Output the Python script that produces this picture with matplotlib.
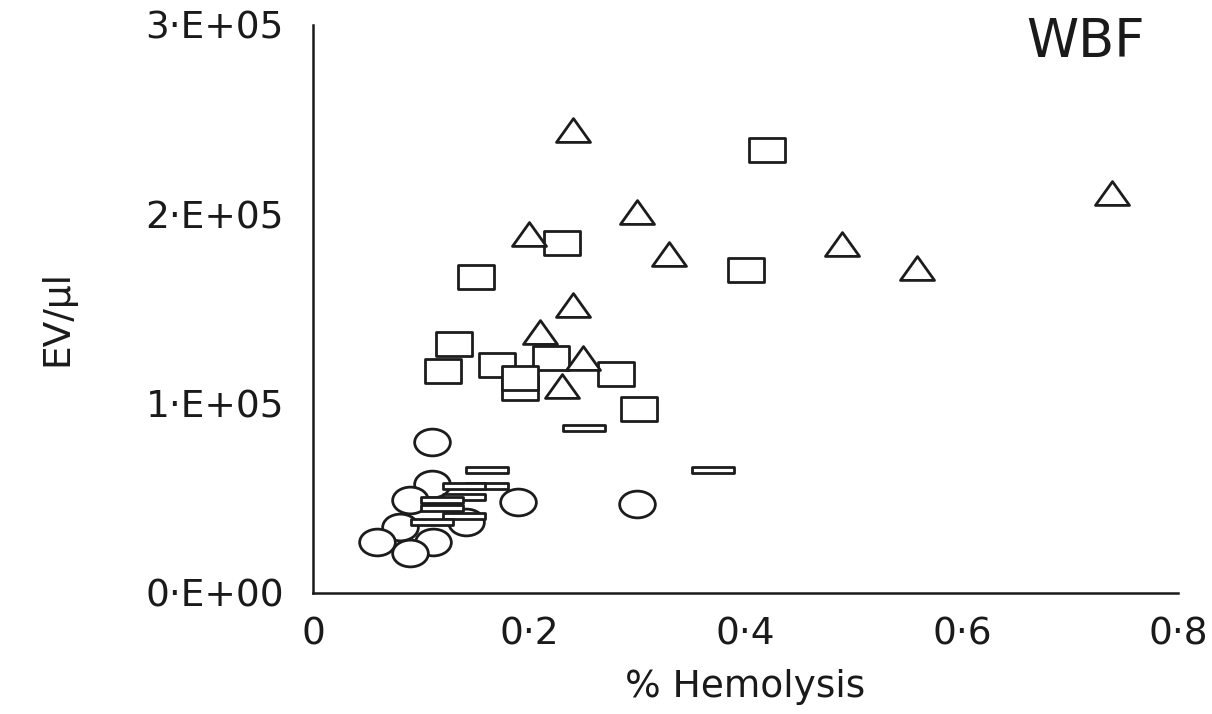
import matplotlib
matplotlib.use('Agg')
import matplotlib.pyplot as plt
from matplotlib.path import Path
from matplotlib.markers import MarkerStyle
from matplotlib.transforms import Affine2D

plt.rcParams['font.family'] = ['DejaVu Sans']

# --- Data (x: % hemolysis, y: EV/ul) ---
circle_x = [0.110, 0.110, 0.090, 0.190, 0.300, 0.141, 0.080, 0.059, 0.111, 0.090]
circle_y = [0.80e5, 0.577e5, 0.492e5, 0.481e5, 0.471e5, 0.376e5, 0.349e5, 0.27e5, 0.27e5, 0.212e5]

square_x = [0.420, 0.230, 0.151, 0.400, 0.130, 0.120, 0.220, 0.170, 0.191, 0.191, 0.280, 0.301]
square_y = [2.341e5, 1.847e5, 1.667e5, 1.704e5, 1.317e5, 1.175e5, 1.243e5, 1.206e5,
            1.085e5, 1.138e5, 1.159e5, 0.974e5]

bar_x = [0.251, 0.370, 0.161, 0.161, 0.140, 0.140, 0.119, 0.119, 0.140, 0.110]
bar_y = [0.873e5, 0.651e5, 0.651e5, 0.566e5, 0.566e5, 0.508e5, 0.492e5, 0.450e5, 0.407e5, 0.376e5]

tri_x = [0.240, 0.300, 0.200, 0.329, 0.489, 0.559, 0.739, 0.240, 0.210, 0.250, 0.230]
tri_y = [2.444e5, 2.01e5, 1.894e5, 1.788e5, 1.841e5, 1.714e5, 2.111e5, 1.52e5, 1.38e5, 1.24e5, 1.095e5]

x_ticks = [0, 0.2, 0.4, 0.6, 0.8]
x_labels = ['0', '0\u00b72', '0\u00b74', '0\u00b76', '0\u00b78']
y_ticks = [0, 1e5, 2e5, 3e5]
y_labels = ['0\u00b7E+00', '1\u00b7E+05', '2\u00b7E+05', '3\u00b7E+05']

# --- Marker shapes (the original figure is stretched horizontally) ---
rect_marker = MarkerStyle(Path([(-0.7, -0.48), (0.7, -0.48), (0.7, 0.48), (-0.7, 0.48), (-0.7, -0.48)],
                               closed=True), joinstyle='miter')
bar_marker = MarkerStyle(Path([(-0.5, -0.075), (0.5, -0.075), (0.5, 0.075), (-0.5, 0.075), (-0.5, -0.075)],
                              closed=True), joinstyle='miter')
tri_marker = MarkerStyle(Path([(0, 0.35), (-0.5, -0.35), (0.5, -0.35), (0, 0.35)], closed=True),
                         joinstyle='miter')
ellipse_marker = MarkerStyle(Path.unit_circle().transformed(Affine2D().scale(1.0, 0.75)))

edge = '#1c1c1c'
common = dict(linestyle='none', mfc='white', mec=edge, mew=2.0)

fig = plt.figure(figsize=(12.12, 7.14), dpi=100)
ax = fig.add_axes([0.2583, 0.1695, 0.7137, 0.7955])

ax.plot(circle_x, circle_y, marker=ellipse_marker, ms=25.7, zorder=2, **common)
ax.plot(square_x, square_y, marker=rect_marker, ms=26.2, zorder=3, **common)
ax.plot(bar_x, bar_y, marker=bar_marker, ms=29.6, zorder=4, **common)
ax.plot(tri_x, tri_y, marker=tri_marker, ms=24.5, zorder=5, **common)

ax.set_xlim(0, 0.8)
ax.set_ylim(0, 3e5)
ax.set_xticks(x_ticks)
ax.set_xticklabels(x_labels)
ax.set_yticks(y_ticks)
ax.set_yticklabels(y_labels)
ax.tick_params(axis='both', length=0, labelsize=27, colors='#1a1a1a')
ax.tick_params(axis='x', pad=17)
ax.tick_params(axis='y', pad=21)

for side in ['top', 'right']:
    ax.spines[side].set_visible(False)
for side in ['left', 'bottom']:
    ax.spines[side].set_linewidth(1.8)
    ax.spines[side].set_color('#1a1a1a')

ax.set_xlabel('% Hemolysis', fontsize=27, labelpad=12, color='#1a1a1a')
ax.set_ylabel('EV/\u03bcl', fontsize=27, color='#1a1a1a')
ax.yaxis.set_label_coords(-0.275, 0.484)

ax.text(0.8925, 0.9437, 'WBF', transform=ax.transAxes, ha='center', va='baseline',
        fontsize=38, color='#1a1a1a')

fig.savefig('out.png', dpi=100)
